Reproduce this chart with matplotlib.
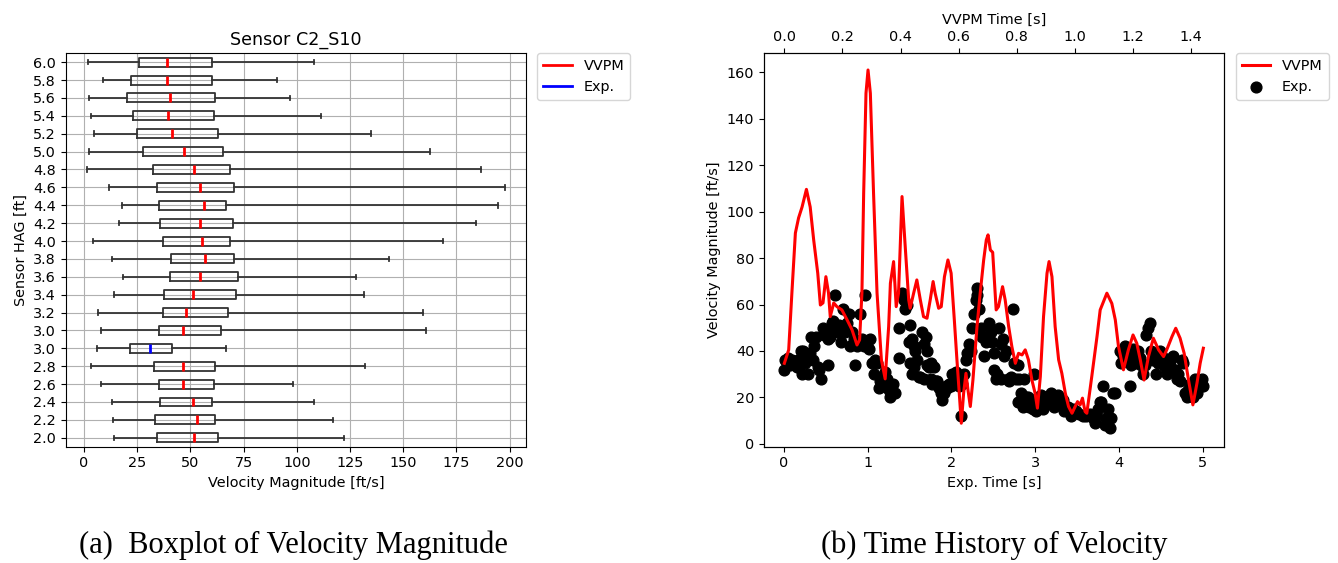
import matplotlib
matplotlib.use("Agg")
import matplotlib.pyplot as plt
from matplotlib.lines import Line2D

plt.rcParams["font.size"] = 10.4

# -------------------------
# (a) boxplot data, bottom to top
# -------------------------
hag_labels = ["2.0", "2.2", "2.4", "2.6", "2.8", "3.0", "3.0", "3.2", "3.4", "3.6", "3.8",
              "4.0", "4.2", "4.4", "4.6", "4.8", "5.0", "5.2", "5.4", "5.6", "5.8", "6.0"]
exp_row = 5  # the experimental sensor
box_lo = [14.3, 13.6, 13.2, 8.2, 3.1, 6.1, 8.2, 6.4, 14.3, 18.4, 13.2,
          4.1, 16.5, 18.0, 11.9, 1.4, 2.5, 4.5, 3.5, 2.5, 9.0, 2.0]
box_q1 = [34.2, 33.6, 35.8, 35.1, 33.1, 21.5, 35.1, 37.0, 37.8, 40.2, 40.8,
          37.3, 35.8, 35.1, 34.5, 32.6, 27.6, 25.0, 23.0, 20.0, 22.0, 26.0]
box_med = [51.9, 53.0, 51.0, 46.7, 46.3, 31.1, 46.7, 47.8, 51.4, 54.3, 56.9,
           55.4, 54.3, 56.3, 54.3, 51.9, 47.2, 41.4, 39.4, 40.5, 39.0, 38.9]
box_q3 = [63.2, 61.6, 60.2, 60.9, 61.6, 41.3, 64.3, 67.5, 71.5, 72.3, 70.3,
          68.7, 69.8, 66.7, 70.3, 68.7, 65.1, 63.2, 60.9, 61.6, 60.0, 60.0]
box_hi = [122.2, 117.2, 108.2, 98.0, 132.2, 66.6, 160.8, 159.4, 131.8, 127.7, 143.2,
          168.5, 184.0, 194.5, 198.0, 186.4, 162.8, 134.9, 111.4, 96.6, 90.7, 108.0]

# -------------------------
# (b) time history data
# -------------------------
vvpm_t = [0.000, 0.015, 0.026, 0.038, 0.049, 0.061, 0.076, 0.089, 0.101, 0.115,
          0.124, 0.133, 0.143, 0.152, 0.158, 0.170, 0.181, 0.198, 0.216, 0.233,
          0.250, 0.259, 0.267, 0.273, 0.281, 0.288, 0.296, 0.307, 0.319, 0.334,
          0.347, 0.359, 0.365, 0.376, 0.385, 0.393, 0.405, 0.416, 0.428, 0.433,
          0.445, 0.456, 0.468, 0.479, 0.491, 0.502, 0.512, 0.519, 0.531, 0.540,
          0.551, 0.563, 0.574, 0.585, 0.594, 0.602, 0.609, 0.617, 0.625, 0.632,
          0.640, 0.649, 0.663, 0.674, 0.686, 0.695, 0.701, 0.709, 0.717, 0.729,
          0.737, 0.751, 0.760, 0.772, 0.783, 0.795, 0.806, 0.818, 0.829, 0.840,
          0.852, 0.863, 0.871, 0.881, 0.892, 0.904, 0.911, 0.921, 0.932, 0.944,
          0.955, 0.967, 0.978, 0.990, 1.001, 1.009, 1.018, 1.026, 1.035, 1.041,
          1.058, 1.076, 1.087, 1.110, 1.127, 1.139, 1.150, 1.167, 1.184, 1.200,
          1.213, 1.225, 1.238, 1.253, 1.270, 1.288, 1.305, 1.316, 1.334, 1.347,
          1.362, 1.376, 1.391, 1.406, 1.420, 1.431, 1.442]
vvpm_v = [34.7, 40.5, 65, 90.8, 97.3, 102, 109.6, 102, 87.8, 73.5,
          59.8, 60.7, 72, 65, 54.8, 60.7, 59.1, 57.7, 53.4, 49.1,
          42.6, 44.8, 65, 107.9, 151, 161, 151, 108, 65, 36.2,
          28, 50.5, 69.2, 78.5, 59.1, 64.9, 106.5, 85, 62, 58.4,
          64.9, 70.6, 62, 54.8, 54.1, 62, 69.9, 64.9, 58.4, 59.1,
          72, 79.2, 73.5, 53.4, 36.2, 21.8, 8.9, 21.8, 30.4, 23.2,
          16.1, 27.5, 50.5, 64.9, 79.2, 87.8, 90, 83.5, 82.5, 57.7,
          59.1, 67.7, 62, 50.5, 41.9, 34.7, 39, 38.3, 40.5, 36.2,
          27.5, 21.8, 15.4, 29, 54.8, 73.5, 78.5, 72, 50.5, 36.2,
          30.4, 21.8, 16.1, 13.2, 16.1, 18.2, 16.8, 19.7, 13.9, 13.2,
          29, 46.2, 57.7, 64.9, 60.5, 53.4, 41.9, 31.9, 40.5, 46.9,
          43.3, 36.2, 27.5, 37.6, 45.5, 40.5, 37.6, 40.5, 46.2, 49.8,
          45.5, 39, 27.5, 16.8, 26.1, 34.7, 41.2]

exp_t = [0.00, 0.01, 0.03, 0.05, 0.07, 0.10, 0.13, 0.15, 0.17, 0.19, 0.20, 0.21, 0.23, 0.24,
         0.25, 0.27, 0.29, 0.31, 0.32, 0.34, 0.36, 0.38, 0.40, 0.42, 0.44, 0.46, 0.48,
         0.50, 0.52, 0.53, 0.55, 0.57, 0.59, 0.61, 0.62, 0.64, 0.66, 0.68, 0.70, 0.71, 0.73,
         0.75, 0.77, 0.79, 0.81, 0.83, 0.85, 0.87, 0.89, 0.91, 0.93, 0.95, 0.97, 0.99,
         1.01, 1.03, 1.05, 1.07, 1.09, 1.11, 1.13, 1.15, 1.17, 1.19, 1.21, 1.23, 1.25, 1.27,
         1.28, 1.30, 1.32, 1.37, 1.37, 1.41, 1.43, 1.44, 1.47, 1.49,
         1.51, 1.51, 1.53, 1.53, 1.55, 1.55, 1.57, 1.59, 1.61, 1.63, 1.65, 1.67, 1.67, 1.69,
         1.71, 1.71, 1.73, 1.75, 1.75, 1.77, 1.79, 1.81, 1.83, 1.85, 1.87, 1.89, 1.91, 1.93,
         1.95, 1.97, 1.99,
         2.01, 2.03, 2.05, 2.07, 2.09, 2.11, 2.13, 2.15, 2.17, 2.19, 2.21, 2.23, 2.25, 2.27,
         2.29, 2.30, 2.31, 2.33, 2.35, 2.37, 2.39, 2.41, 2.43, 2.45, 2.47, 2.49,
         2.51, 2.51, 2.53, 2.55, 2.57, 2.59, 2.59, 2.61, 2.63, 2.65, 2.67, 2.69, 2.71, 2.73,
         2.75, 2.77, 2.79, 2.79, 2.81, 2.83, 2.85, 2.87, 2.89, 2.91, 2.93, 2.95, 2.97, 2.99,
         3.01, 3.03, 3.05, 3.07, 3.09, 3.11, 3.13, 3.15, 3.17, 3.19, 3.21, 3.23, 3.25, 3.27,
         3.29, 3.31, 3.33, 3.35, 3.37, 3.39, 3.41, 3.43, 3.45,
         3.49, 3.53, 3.57, 3.61, 3.65, 3.69, 3.71, 3.73, 3.75, 3.77, 3.79, 3.81, 3.83, 3.85,
         3.87, 3.89, 3.91, 3.93, 3.95,
         4.01, 4.03, 4.05, 4.07, 4.09, 4.11, 4.13, 4.15, 4.17, 4.19, 4.21, 4.23, 4.25, 4.27,
         4.29, 4.31, 4.33, 4.35, 4.37, 4.39, 4.41, 4.43, 4.45, 4.47, 4.49,
         4.51, 4.53, 4.55, 4.57, 4.59, 4.61, 4.63, 4.65, 4.67, 4.69, 4.71, 4.73, 4.75, 4.77,
         4.79, 4.81, 4.83, 4.85, 4.87, 4.89, 4.91, 4.93, 4.95, 4.97, 4.99, 5.00]
exp_v = [32, 36, 35, 37, 34, 36, 35, 33, 36, 34, 40, 30, 40, 37,
         35, 38, 30, 39, 46, 36, 42, 46, 33, 32, 28, 50, 47,
         49, 45, 34, 46, 52, 53, 64, 50, 48, 51, 44, 50, 58, 48,
         52, 56, 42, 48, 45, 34, 42, 44, 56, 45, 42, 64, 42,
         41, 45, 35, 30, 36, 35, 24, 27, 29, 25, 31, 28, 23, 20,
         24, 26, 22, 37, 50, 65, 62, 58, 60, 44,
         51, 35, 45, 30, 42, 33, 40, 36, 29, 29, 48, 43, 28, 46,
         40, 34, 33, 35, 28, 26, 33, 27, 27, 24, 22, 19, 22, 25,
         24, 26, 25,
         30, 26, 31, 30, 25, 12, 26, 30, 36, 39, 43, 40, 50, 56,
         62, 67, 64, 58, 50, 46, 38, 44, 46, 52, 48, 44,
         39, 32, 28, 30, 50, 43, 28, 45, 38, 40, 28, 27, 29, 58,
         35, 28, 34, 18, 28, 22, 16, 28, 20, 20, 16, 19, 15, 30,
         14, 20, 17, 21, 15, 20, 17, 20, 18, 22, 19, 16, 20, 21,
         18, 17, 19, 14, 16, 16, 14, 12, 15,
         14, 13, 12, 12, 13, 11, 9, 12, 15, 18, 18, 25, 8, 11,
         15, 7, 11, 22, 22,
         40, 35, 38, 42, 36, 40, 25, 34, 41, 38, 35, 40, 37, 34,
         30, 34, 47, 50, 52, 40, 36, 38, 30, 35, 40,
         38, 36, 33, 30, 35, 34, 37, 38, 32, 28, 30, 27, 36, 35,
         22, 20, 23, 26, 22, 20, 28, 22, 24, 26, 28, 25]

# -------------------------
# Figure
# -------------------------
fig = plt.figure(figsize=(13.38, 5.63), dpi=100)

# (a) boxplot
ax_a = fig.add_axes([0.0491, 0.2066, 0.3440, 0.6988])
stats = []
for i in range(len(hag_labels)):
    stats.append({"label": hag_labels[i], "whislo": box_lo[i], "q1": box_q1[i],
                  "med": box_med[i], "q3": box_q3[i], "whishi": box_hi[i]})
bp = ax_a.bxp(stats, orientation="horizontal", showfliers=False, widths=0.5,
              boxprops=dict(color="#333333", linewidth=1.3),
              whiskerprops=dict(color="#333333", linewidth=1.3),
              capprops=dict(color="#333333", linewidth=1.3),
              medianprops=dict(color="red", linewidth=2))
bp["medians"][exp_row].set_color("blue")
ax_a.set_xlim(-8.6, 207.7)
ax_a.set_xticks([0, 25, 50, 75, 100, 125, 150, 175, 200])
ax_a.grid(True)
ax_a.set_axisbelow(True)
ax_a.set_title("Sensor C2_S10", fontsize=12.6)
ax_a.set_xlabel("Velocity Magnitude [ft/s]")
ax_a.set_ylabel("Sensor HAG [ft]")
handles_a = [Line2D([], [], color="red", lw=2, label="VVPM"),
             Line2D([], [], color="blue", lw=2, label="Exp.")]
ax_a.legend(handles=handles_a, loc="upper left", bbox_to_anchor=(1.025, 1.0), borderaxespad=0)

# (b) time history
ax_b = fig.add_axes([0.5710, 0.2066, 0.3440, 0.6988])
sc = ax_b.scatter(exp_t, exp_v, color="black", s=60, label="Exp.")
ax_b.set_xlim(-0.24, 5.26)
ax_b.set_ylim(-1.2, 168.2)
ax_b.set_xlabel("Exp. Time [s]")
ax_b.set_ylabel("Velocity Magnitude [ft/s]")

ax_top = ax_b.twiny()
ln, = ax_top.plot(vvpm_t, vvpm_v, color="red", lw=2.2, label="VVPM")
ax_top.set_xlim(-0.070, 1.514)
ax_top.set_xlabel("VVPM Time [s]")
ax_b.legend(handles=[ln, sc], loc="upper left", bbox_to_anchor=(1.025, 1.0), borderaxespad=0)

# captions
fig.text(0.219, 0.032, "(a)  Boxplot of Velocity Magnitude", family="Liberation Serif",
         fontsize=22, ha="center", va="center")
fig.text(0.743, 0.032, "(b) Time History of Velocity", family="Liberation Serif",
         fontsize=22, ha="center", va="center")

fig.savefig("out.png", dpi=100)
